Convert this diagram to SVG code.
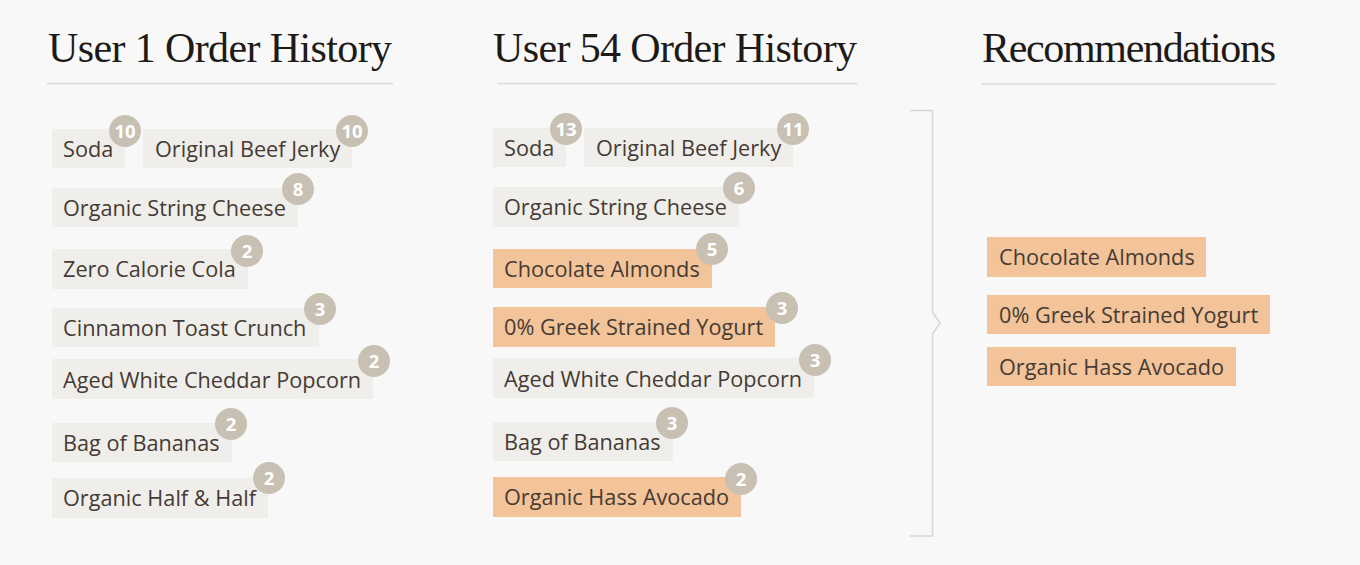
<svg xmlns="http://www.w3.org/2000/svg" width="1360" height="565" viewBox="0 0 1360 565">
<style>
.title{font-family:"Liberation Serif","Times New Roman",serif;font-size:42px;fill:#1e1a17}
.rule{stroke:#dcdcdc;stroke-width:1.5}
.box{fill:#efeeea}
.hot{fill:#f3c399}
.lbl{font-family:"Open Sans","Noto Sans",sans-serif;font-size:21.7px;fill:#463b34}
.bd{fill:#c8c1b3}
.num{font-family:"Open Sans","Noto Sans",sans-serif;font-size:18.5px;font-weight:bold;fill:#ffffff;text-anchor:middle}
.br{fill:none;stroke:#d6d6d6;stroke-width:1.5}
</style>
<rect width="1360" height="565" fill="#f8f8f8"/>
<g id="headers">
<text class="title" x="48" y="62" textLength="344" lengthAdjust="spacing">User 1 Order History</text>
<line class="rule" x1="47" y1="83.5" x2="393" y2="83.5"/>
<text class="title" x="493" y="62" textLength="364" lengthAdjust="spacing">User 54 Order History</text>
<line class="rule" x1="498" y1="83.5" x2="858" y2="83.5"/>
<text class="title" x="982" y="62" textLength="294" lengthAdjust="spacing">Recommendations</text>
<line class="rule" x1="981" y1="84" x2="1276" y2="84"/>
</g>
<g id="connectors">
<path class="br" d="M910 110.5 H932.5 V312 L940 323 L932.5 334 V536 H910"/>
</g>
<!-- User 1 -->
<g id="u1-soda"><rect class="box" x="52" y="129" width="73" height="39"/><text class="lbl" x="63" y="157">Soda</text><circle class="bd" cx="125" cy="131" r="16"/><text class="num" x="125" y="137.5">10</text></g>
<g id="u1-jerky"><rect class="box" x="143" y="129" width="209" height="39"/><text class="lbl" x="155" y="157">Original Beef Jerky</text><circle class="bd" cx="352" cy="131" r="16"/><text class="num" x="352" y="137.5">10</text></g>
<g id="u1-cheese"><rect class="box" x="52" y="188" width="246" height="39"/><text class="lbl" x="63" y="216">Organic String Cheese</text><circle class="bd" cx="298" cy="189" r="16"/><text class="num" x="298" y="195.5">8</text></g>
<g id="u1-cola"><rect class="box" x="52" y="249" width="196" height="40"/><text class="lbl" x="63" y="277">Zero Calorie Cola</text><circle class="bd" cx="247" cy="251" r="16"/><text class="num" x="247" y="257.5">2</text></g>
<g id="u1-crunch"><rect class="box" x="52" y="308" width="267" height="39"/><text class="lbl" x="63" y="336">Cinnamon Toast Crunch</text><circle class="bd" cx="320" cy="309" r="16"/><text class="num" x="320" y="315.5">3</text></g>
<g id="u1-popcorn"><rect class="box" x="52" y="359" width="321" height="40"/><text class="lbl" x="63" y="388">Aged White Cheddar Popcorn</text><circle class="bd" cx="374" cy="361" r="16"/><text class="num" x="374" y="367.5">2</text></g>
<g id="u1-bananas"><rect class="box" x="52" y="423" width="180" height="39"/><text class="lbl" x="63" y="451">Bag of Bananas</text><circle class="bd" cx="231" cy="424" r="16"/><text class="num" x="231" y="430.5">2</text></g>
<g id="u1-halfhalf"><rect class="box" x="52" y="478" width="216" height="40"/><text class="lbl" x="63" y="506">Organic Half &amp; Half</text><circle class="bd" cx="269" cy="478" r="16"/><text class="num" x="269" y="484.5">2</text></g>
<!-- User 54 -->
<g id="u54-soda"><rect class="box" x="493" y="128" width="73" height="39"/><text class="lbl" x="504" y="156">Soda</text><circle class="bd" cx="566" cy="129" r="16"/><text class="num" x="566" y="135.5">13</text></g>
<g id="u54-jerky"><rect class="box" x="584" y="128" width="209" height="39"/><text class="lbl" x="596" y="156">Original Beef Jerky</text><circle class="bd" cx="793" cy="129" r="16"/><text class="num" x="793" y="135.5">11</text></g>
<g id="u54-cheese"><rect class="box" x="493" y="187" width="246" height="40"/><text class="lbl" x="504" y="215">Organic String Cheese</text><circle class="bd" cx="739" cy="188" r="16"/><text class="num" x="739" y="194.5">6</text></g>
<g id="u54-almonds"><rect class="hot" x="493" y="249" width="219" height="39"/><text class="lbl" x="504" y="277">Chocolate Almonds</text><circle class="bd" cx="712" cy="249" r="16"/><text class="num" x="712" y="255.5">5</text></g>
<g id="u54-yogurt"><rect class="hot" x="493" y="307" width="282" height="40"/><text class="lbl" x="504" y="335">0% Greek Strained Yogurt</text><circle class="bd" cx="782" cy="308" r="16"/><text class="num" x="782" y="314.5">3</text></g>
<g id="u54-popcorn"><rect class="box" x="493" y="358" width="321" height="40"/><text class="lbl" x="504" y="387">Aged White Cheddar Popcorn</text><circle class="bd" cx="815" cy="360" r="16"/><text class="num" x="815" y="366.5">3</text></g>
<g id="u54-bananas"><rect class="box" x="493" y="422" width="180" height="39"/><text class="lbl" x="504" y="450">Bag of Bananas</text><circle class="bd" cx="672" cy="423" r="16"/><text class="num" x="672" y="429.5">3</text></g>
<g id="u54-avocado"><rect class="hot" x="493" y="477" width="248" height="40"/><text class="lbl" x="504" y="505">Organic Hass Avocado</text><circle class="bd" cx="741" cy="479" r="16"/><text class="num" x="741" y="485.5">2</text></g>
<!-- Recommendations -->
<g id="rec-almonds"><rect class="hot" x="987" y="237" width="219" height="40"/><text class="lbl" x="999" y="265">Chocolate Almonds</text></g>
<g id="rec-yogurt"><rect class="hot" x="987" y="295" width="283" height="39"/><text class="lbl" x="999" y="323">0% Greek Strained Yogurt</text></g>
<g id="rec-avocado"><rect class="hot" x="987" y="347" width="249" height="39"/><text class="lbl" x="999" y="375">Organic Hass Avocado</text></g>
</svg>
